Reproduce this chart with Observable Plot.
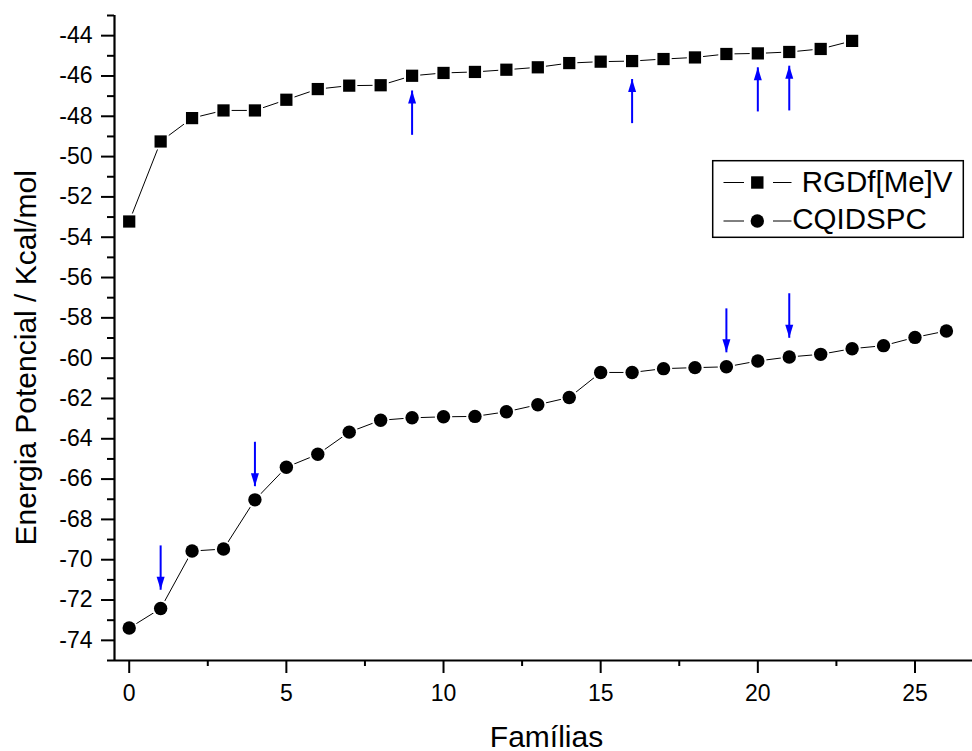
<!DOCTYPE html>
<html>
<head>
<meta charset="utf-8">
<script src="https://cdn.jsdelivr.net/npm/d3@7"></script>
<script src="https://cdn.jsdelivr.net/npm/@observablehq/plot@0.6"></script>
<style>
  html, body { margin: 0; padding: 0; background: #fff; }
  #wrap { position: relative; width: 972px; height: 751px; font-family: "Liberation Sans", Arial, sans-serif; }
  #legend { position: absolute; left: 0; top: 0; pointer-events: none; }
</style>
</head>
<body>
<div id="wrap"></div>
<script>
// ---- data ----
const rgdIndex = [0,1,2,3,4,5,6,7,8,9,10,11,12,13,14,15,16,17,18,19,20,21,22,23];
const rgdEnergy = [-53.22,-49.25,-48.09,-47.71,-47.71,-47.18,-46.65,-46.48,-46.46,-45.99,-45.85,-45.80,
                   -45.69,-45.57,-45.36,-45.29,-45.26,-45.16,-45.08,-44.91,-44.88,-44.81,-44.66,-44.26];
const cqiIndex = [0,1,2,3,4,5,6,7,8,9,10,11,12,13,14,15,16,17,18,19,20,21,22,23,24,25,26];
const cqiEnergy = [-73.39,-72.42,-69.57,-69.47,-67.03,-65.41,-64.77,-63.67,-63.08,-62.96,-62.91,-62.89,
                   -62.66,-62.31,-61.95,-60.71,-60.71,-60.52,-60.47,-60.43,-60.14,-59.94,-59.81,-59.53,
                   -59.38,-58.97,-58.65];
// highlighted families (blue arrows)
const upArrowX = [9, 16, 20, 21];
const upArrowFrom = [-48.92, -48.34, -47.76, -47.71];
const upArrowTo = [-46.72, -46.15, -45.57, -45.49];
const downArrowX = [1, 4, 19, 21];
const downArrowFrom = [-69.29, -64.15, -57.53, -56.78];
const downArrowTo = [-71.49, -66.35, -59.71, -58.99];
// axes
const xMajorTicks = [0, 5, 10, 15, 20, 25];
const xMinorTicks = [2.5, 7.5, 12.5, 17.5, 22.5];
const yMajorTicks = [-74,-72,-70,-68,-66,-64,-62,-60,-58,-56,-54,-52,-50,-48,-46,-44];
const yMinorTicks = [-75,-73,-71,-69,-67,-65,-63,-61,-59,-57,-55,-53,-51,-49,-47,-45,-43];
const seriesNames = ["RGDf[Me]V", "CQIDSPC"];
const xTitle = "Famílias";
const yTitle = "Energia Potencial / Kcal/mol";

// ---- tables ----
const rgd = rgdIndex.map((x, i) => ({x, y: rgdEnergy[i]}));
const cqi = cqiIndex.map((x, i) => ({x, y: cqiEnergy[i]}));
const ups = upArrowX.map((x, i) => ({x, y1: upArrowFrom[i], y2: upArrowTo[i]}));
const downs = downArrowX.map((x, i) => ({x, y1: downArrowFrom[i], y2: downArrowTo[i]}));

const headUp = {draw(ctx) { ctx.moveTo(0, 0); ctx.lineTo(4, 13); ctx.lineTo(-4, 13); ctx.closePath(); }};
const headDown = {draw(ctx) { ctx.moveTo(0, 0); ctx.lineTo(4, -13); ctx.lineTo(-4, -13); ctx.closePath(); }};

const FONT = "'Liberation Sans', Arial, sans-serif";
const BLUE = "#0000ff";

const chart = Plot.plot({
  width: 972,
  height: 751,
  marginLeft: 114,
  marginRight: 0,
  marginTop: 15,
  marginBottom: 91,
  style: {fontFamily: FONT, fontSize: "23px", background: "#fff", color: "#000", overflow: "visible"},
  x: {domain: [-0.468, 26.83]},
  y: {domain: [-75, -43]},
  marks: [
    // axes
    Plot.axisX({ticks: xMajorTicks, tickSize: 13, tickPadding: 11.5, strokeWidth: 2, fontSize: 23, tickFormat: d => String(d), label: null}),
    Plot.axisX({ticks: xMinorTicks, tickSize: 6, strokeWidth: 2, tickFormat: () => "", label: null}),
    Plot.axisY({ticks: yMajorTicks, tickSize: 13, tickPadding: 9, strokeWidth: 2, fontSize: 23, tickFormat: d => String(d), label: null}),
    Plot.axisY({ticks: yMinorTicks, tickSize: 7, strokeWidth: 2, tickFormat: () => "", label: null}),
    Plot.ruleX([-0.468], {stroke: "#000", strokeWidth: 2.2}),
    Plot.ruleY([-75], {stroke: "#000", strokeWidth: 2.2}),
    // series
    Plot.line(rgd, {x: "x", y: "y", stroke: "#000", strokeWidth: 1}),
    Plot.line(cqi, {x: "x", y: "y", stroke: "#000", strokeWidth: 1}),
    Plot.dot(rgd, {x: "x", y: "y", symbol: "square", r: 6.9, fill: "#000", stroke: "#fff", strokeWidth: 4, paintOrder: "stroke"}),
    Plot.dot(cqi, {x: "x", y: "y", symbol: "circle", r: 6.7, fill: "#000", stroke: "#fff", strokeWidth: 4, paintOrder: "stroke"}),
    // arrows
    Plot.link(ups, {x1: "x", x2: "x", y1: "y1", y2: "y2", stroke: BLUE, strokeWidth: 2}),
    Plot.link(downs, {x1: "x", x2: "x", y1: "y1", y2: "y2", stroke: BLUE, strokeWidth: 2}),
    Plot.dot(ups, {x: "x", y: "y2", symbol: headUp, fill: BLUE, stroke: "none"}),
    Plot.dot(downs, {x: "x", y: "y2", symbol: headDown, fill: BLUE, stroke: "none"}),
    // axis titles
    Plot.text([yTitle], {frameAnchor: "left", textAnchor: "middle", rotate: -90, dx: -88.5, dy: 19.8, fontSize: 30, lineAnchor: "middle", fill: "#000"}),
    Plot.text([xTitle], {frameAnchor: "bottom", textAnchor: "middle", dx: 3, dy: 76.5, fontSize: 30, lineAnchor: "middle", fill: "#000"})
  ]
});
document.getElementById("wrap").appendChild(chart);

// ---- legend (overlay) ----
const lg = d3.select("#wrap").append("svg")
  .attr("id", "legend").attr("width", 972).attr("height", 751)
  .attr("font-family", FONT);
lg.append("rect").attr("x", 712.7).attr("y", 160.7).attr("width", 250.6).attr("height", 76.6)
  .attr("fill", "#fff").attr("stroke", "#000").attr("stroke-width", 1.5);
const rows = [
  {name: seriesNames[0], cy: 182.5, base: 191.5, tx: 801.7, sym: "square"},
  {name: seriesNames[1], cy: 221, base: 228.8, tx: 792.3, sym: "circle"}
];
rows.forEach(r => {
  lg.append("line").attr("x1", 723.5).attr("x2", 744).attr("y1", r.cy).attr("y2", r.cy).attr("stroke", "#000").attr("stroke-width", 1);
  lg.append("line").attr("x1", 773).attr("x2", 791.5).attr("y1", r.cy).attr("y2", r.cy).attr("stroke", "#000").attr("stroke-width", 1);
  if (r.sym === "square") {
    lg.append("rect").attr("x", 757.3 - 6.2).attr("y", r.cy - 6.2).attr("width", 12.4).attr("height", 12.4).attr("fill", "#000");
  } else {
    lg.append("circle").attr("cx", 757.3).attr("cy", r.cy).attr("r", 6.7).attr("fill", "#000");
  }
  lg.append("text").attr("x", r.tx).attr("y", r.base).attr("font-size", 29.5).attr("fill", "#000").text(r.name);
});
</script>
</body>
</html>
